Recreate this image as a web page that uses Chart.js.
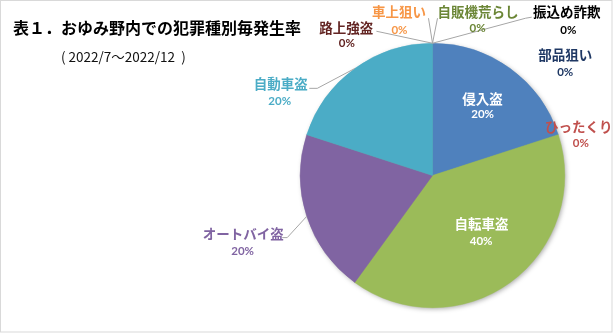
<!DOCTYPE html>
<html><head><meta charset="utf-8">
<script src="https://cdn.jsdelivr.net/npm/chart.js@4/dist/chart.umd.min.js"></script>
<style>
html,body{margin:0;padding:0;background:#fff;}
#wrap{position:relative;width:613px;height:333px;}
</style></head>
<body><div id="wrap"><canvas id="c"></canvas></div>
<script>
// ---- data ----
const titleText = '表１．おゆみ野内での犯罪種別毎発生率';
const subtitleText = '( 2022/7～2022/12  )';
const categories = ['侵入盗','ひったくり','自転車盗','オートバイ盗','自動車盗','路上強盗','車上狙い','自販機荒らし','振込め詐欺','部品狙い'];
const shares = [20, 0, 40, 20, 20, 0, 0, 0, 0, 0];
const sliceColors = ['#4F81BD','#C0504D','#9BBB59','#8064A2','#4BACC6','#953735','#F79646','#77933C','#000000','#1F497D'];
const labelColors = ['#FFFFFF','#C0504D','#FFFFFF','#8064A2','#4BACC6','#632523','#F79646','#6B8636','#000000','#1F3864'];
// label placement (pixel offsets from pie centre at nominal radius 132)
const nameOffsets = [[50,-77],[146,-50],[49,47.5],[-189,57.5],[-151.5,-92],[-86,-148.5],[-33.5,-164.5],[45.5,-164.5],[134,-164.5],[132.5,-121]];
const pctOffsets  = [[50,-61],[148,-32.5],[48.5,65.5],[-189.5,75.5],[-152.5,-74],[-85.5,-132],[-33,-144.5],[45,-147],[135.5,-144.5],[132.5,-103]];
const leaderPoints = [null,null,null,[[-145,62],[-150,62]],[[-115,-87],[-123,-87]],[[-56,-144]],[[-4,-157]],[[5,-157]],[[93,-157],[99,-158]],null];

const NOMINAL_R = 132;

const decor = {
  id:'decor',
  beforeDatasetsDraw(chart){
    const meta = chart.getDatasetMeta(0);
    const a = meta.data[0];
    const ctx = chart.ctx;
    ctx.save();
    ctx.shadowColor = 'rgba(0,0,0,0.35)';
    ctx.shadowBlur = 5;
    ctx.shadowOffsetX = 1.5;
    ctx.shadowOffsetY = 1.5;
    ctx.fillStyle = '#9BBB59';
    ctx.beginPath();
    ctx.arc(a.x, a.y, a.outerRadius-0.5, 0, Math.PI*2);
    ctx.fill();
    ctx.restore();
  },
  afterDraw(chart){
    const ctx = chart.ctx;
    const meta = chart.getDatasetMeta(0);
    const a0 = meta.data[0];
    const cx = a0.x, cy = a0.y, R = a0.outerRadius;
    const s = R / NOMINAL_R;
    ctx.save();
    // border
    ctx.strokeStyle = '#D9D9D9';
    ctx.lineWidth = 1;
    ctx.strokeRect(0.5, 0.5, chart.width-1.5, chart.height-1.5);
    // title
    ctx.fillStyle = '#000';
    ctx.textBaseline = 'middle';
    ctx.textAlign = 'left';
    ctx.font = 'bold 16px "Noto Sans CJK JP"';
    ctx.fillText(titleText, 13, 28);
    ctx.font = '13.5px "Noto Sans CJK JP"';
    ctx.fillStyle = '#111';
    ctx.fillText(subtitleText, 61, 56.5);
    // leader lines
    ctx.strokeStyle = '#A6A6A6';
    ctx.lineWidth = 1;
    meta.data.forEach((arc, i) => {
      const pts = leaderPoints[i];
      if (!pts) return;
      const mid = (arc.startAngle + arc.endAngle) / 2;
      const ex = cx + Math.cos(mid) * R, ey = cy + Math.sin(mid) * R;
      ctx.beginPath();
      ctx.moveTo(ex, ey);
      pts.forEach(p => ctx.lineTo(cx + p[0]*s, cy + p[1]*s));
      ctx.stroke();
    });
    // labels
    ctx.textAlign = 'center';
    const total = shares.reduce((t,v)=>t+v,0);
    meta.data.forEach((arc, i) => {
      ctx.fillStyle = labelColors[i];
      ctx.font = 'bold 13.5px "Noto Sans CJK JP"';
      ctx.fillText(categories[i], cx + nameOffsets[i][0]*s, cy + nameOffsets[i][1]*s + 1);
      ctx.font = 'bold 11.5px Lato';
      const pct = Math.round(shares[i] / total * 100) + '%';
      ctx.fillText(pct, cx + pctOffsets[i][0]*s, cy + pctOffsets[i][1]*s);
    });
    ctx.restore();
  }
};

new Chart(document.getElementById('c'), {
  type:'pie',
  data:{
    labels: categories,
    datasets:[{
      data: shares,
      backgroundColor: sliceColors,
      borderColor: sliceColors,
      borderWidth: 0.5
    }]
  },
  options:{
    responsive:true,
    maintainAspectRatio:false,
    animation:false,
    events:[],
    layout:{padding:{left:300,right:48,top:43,bottom:25}},
    plugins:{legend:{display:false},tooltip:{enabled:false},title:{display:false}}
  },
  plugins:[decor]
});
</script>
</body></html>
